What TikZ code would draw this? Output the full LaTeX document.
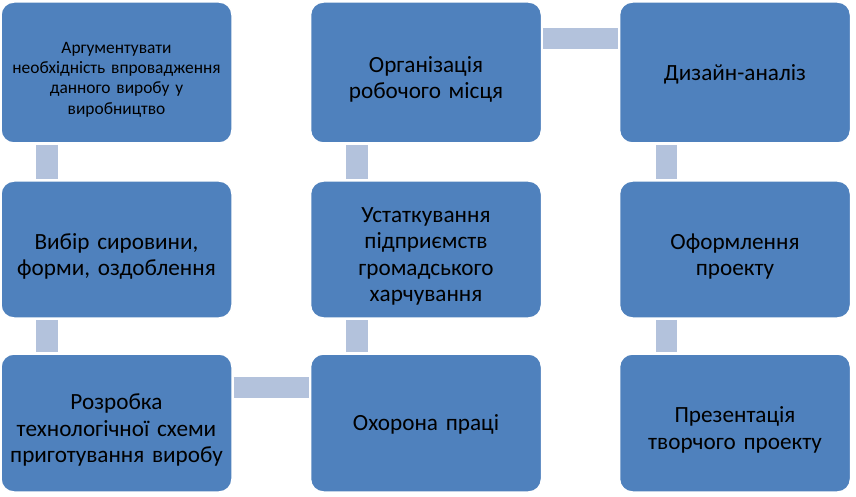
\documentclass[tikz,border=0pt]{standalone}
\usepackage{fontspec}
\setmainfont{Carlito}
\definecolor{boxblue}{HTML}{4F81BD}
\definecolor{barblue}{HTML}{B3C2DC}
\newcommand\boxtextlower{\endgraf\vskip-14pt\prevdepth=-1000pt\hbox{}}
\begin{document}
\begin{tikzpicture}[x=1pt,y=-1pt,
  stepbox/.style={draw=white,line width=1.5pt,fill=boxblue,rounded corners=13pt,
    minimum width=231pt,text width=228pt,align=center,inner sep=0pt,
    font=\fontsize{23.2}{26.6}\selectfont,text=black,
    execute at end node={\boxtextlower}},
  smalltext/.style={font=\fontsize{17.4}{20.4}\selectfont},
  bar/.style={draw=barblue,line width=21.5pt,line cap=butt,shorten <=1.2pt,shorten >=1.2pt}]
\useasboundingbox (0,0) rectangle (856,497);
% column 1
\node[stepbox,smalltext,minimum height=141pt] (a1) at (116.5,72.5)
  {Аргументувати\\необхідність впровадження\\данного виробу у\\виробництво};
\node[stepbox,minimum height=137pt] (a2) at (116.5,249.5)
  {Вибір сировини,\\форми, оздоблення};
\node[stepbox,minimum height=138pt] (a3) at (116.5,423)
  {Розробка\\технологічної схеми\\приготування виробу};
% column 2
\node[stepbox,minimum height=141pt] (b1) at (426,72.5)
  {Організація\\робочого місця};
\node[stepbox,minimum height=137pt] (b2) at (426,249.5)
  {Устаткування\\підприємств\\громадського\\харчування};
\node[stepbox,minimum height=138pt] (b3) at (426,423)
  {Охорона праці};
% column 3
\node[stepbox,minimum height=141pt] (c1) at (735,72.5)
  {Дизайн-аналіз};
\node[stepbox,minimum height=137pt] (c2) at (735,249.5)
  {Оформлення\\проекту};
\node[stepbox,minimum height=138pt] (c3) at (735,423)
  {Презентація\\творчого проекту};
% connectors
\draw[bar] ([xshift=-69.5pt]a1.south) -- ([xshift=-69.5pt]a2.north);
\draw[bar] ([xshift=-69.5pt]a2.south) -- ([xshift=-69.5pt]a3.north);
\draw[bar] ([yshift=35.5pt]a3.east) -- ([yshift=35.5pt]b3.west);
\draw[bar] ([xshift=-69pt]b3.north) -- ([xshift=-69pt]b2.south);
\draw[bar] ([xshift=-69pt]b2.north) -- ([xshift=-69pt]b1.south);
\draw[bar] ([yshift=34pt]b1.east) -- ([yshift=34pt]c1.west);
\draw[bar] ([xshift=-68.5pt]c1.south) -- ([xshift=-68.5pt]c2.north);
\draw[bar] ([xshift=-68.5pt]c2.south) -- ([xshift=-68.5pt]c3.north);
\end{tikzpicture}
\end{document}
